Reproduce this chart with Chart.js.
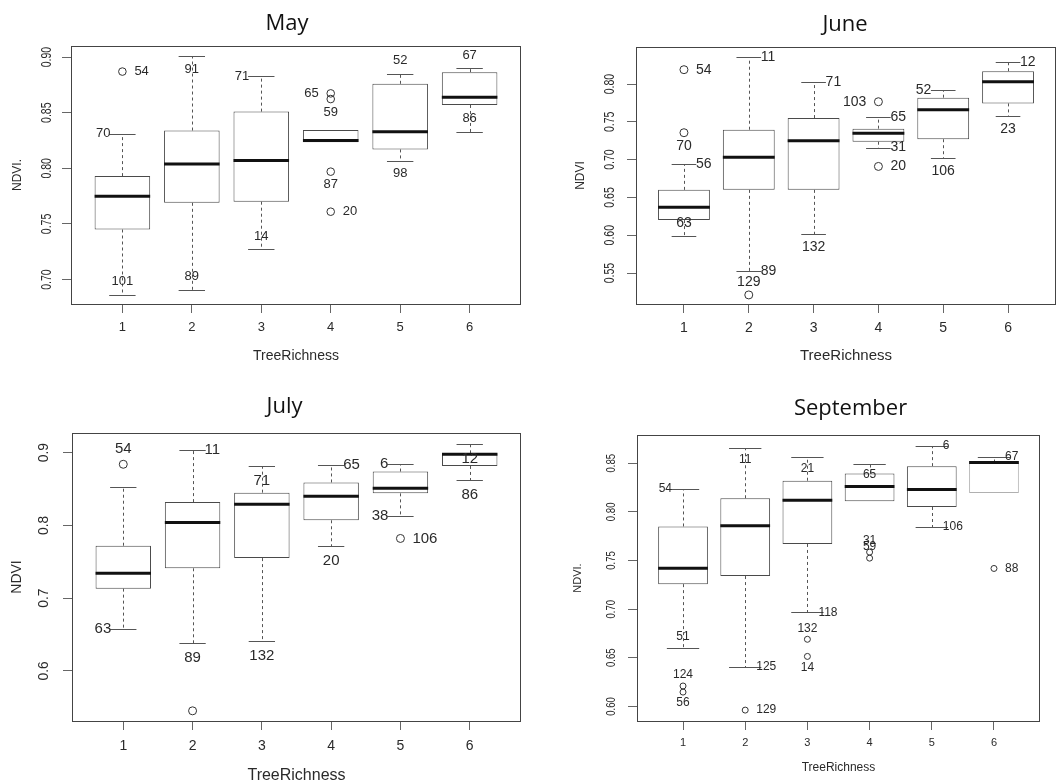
<!DOCTYPE html>
<html>
<head>
<meta charset="utf-8">
<title>NDVI by TreeRichness</title>
<script src="https://cdn.jsdelivr.net/npm/chart.js@4.4.0/dist/chart.umd.min.js"></script>
<style>
  html, body { margin: 0; padding: 0; background: #fff; }
  body { width: 1061px; height: 782px; position: relative; overflow: hidden; }
  .panel { position: absolute; }
  .panel canvas { display: block; }
</style>
</head>
<body>
<div class="panel" style="left:0;top:0"><canvas id="mayChart" width="530" height="380"></canvas></div>
<div class="panel" style="left:530px;top:0"><canvas id="juneChart" width="531" height="380"></canvas></div>
<div class="panel" style="left:0;top:380px"><canvas id="julyChart" width="530" height="402"></canvas></div>
<div class="panel" style="left:530px;top:380px"><canvas id="septChart" width="531" height="402"></canvas></div>

<script>
// ---- data ----
const treeRichness = [1, 2, 3, 4, 5, 6];

// May
const mayLow  = [0.6865, 0.691, 0.7275, 0.8235, 0.807, 0.833];
const mayQ1   = [0.745, 0.769, 0.770, 0.8235, 0.817, 0.857];
const mayMed  = [0.775, 0.804, 0.807, 0.825, 0.833, 0.864];
const mayQ3   = [0.793, 0.834, 0.851, 0.8345, 0.876, 0.8865];
const mayHigh = [0.831, 0.901, 0.883, 0.8345, 0.885, 0.890];
const mayOutX = [1, 4, 4, 4, 4];
const mayOutY = [0.887, 0.8674, 0.8623, 0.797, 0.761];
const mayIdText = ['54', '70', '101', '91', '89', '71', '14', '65', '59', '87', '20', '52', '98', '67', '86'];
const mayIdX    = [1, 1, 1, 2, 2, 3, 3, 4, 4, 4, 4, 5, 5, 6, 6];
const mayIdY    = [0.887, 0.831, 0.6865, 0.901, 0.691, 0.883, 0.7275, 0.8674, 0.8623, 0.797, 0.761, 0.885, 0.807, 0.890, 0.833];
const mayIdSide = ['r', 'l', 'a', 'b', 'a', 'l', 'a', 'l', 'b', 'b', 'r', 'a', 'b', 'a', 'a'];
const mayTicks  = [0.70, 0.75, 0.80, 0.85, 0.90];

// June
const juneLow  = [0.5985, 0.552, 0.602, 0.716, 0.702, 0.758];
const juneQ1   = [0.620, 0.660, 0.660, 0.7237, 0.727, 0.7744];
const juneMed  = [0.637, 0.703, 0.725, 0.735, 0.766, 0.803];
const juneQ3   = [0.660, 0.7396, 0.755, 0.741, 0.782, 0.817];
const juneHigh = [0.6946, 0.836, 0.8026, 0.756, 0.7916, 0.8295];
const juneOutX = [1, 1, 2, 4, 4];
const juneOutY = [0.819, 0.7356, 0.521, 0.7766, 0.691];
const juneIdText = ['54', '70', '56', '63', '11', '89', '129', '71', '132', '103', '65', '31', '20', '52', '106', '12', '23'];
const juneIdX    = [1, 1, 1, 1, 2, 2, 2, 3, 3, 4, 4, 4, 4, 5, 5, 6, 6];
const juneIdY    = [0.819, 0.7356, 0.6946, 0.5985, 0.836, 0.552, 0.521, 0.8026, 0.602, 0.7766, 0.756, 0.716, 0.691, 0.7916, 0.702, 0.8295, 0.758];
const juneIdSide = ['r', 'b', 'r', 'a', 'r', 'r', 'a', 'r', 'b', 'l', 'r', 'r', 'r', 'l', 'b', 'r', 'b'];
const juneTicks  = [0.55, 0.60, 0.65, 0.70, 0.75, 0.80];

// July
const julyLow  = [0.658, 0.638, 0.641, 0.7716, 0.813, 0.862];
const julyQ1   = [0.713, 0.741, 0.755, 0.807, 0.844, 0.8817];
const julyMed  = [0.734, 0.804, 0.829, 0.840, 0.851, 0.8977];
const julyQ3   = [0.772, 0.832, 0.845, 0.859, 0.874, 0.899];
const julyHigh = [0.853, 0.904, 0.882, 0.8835, 0.884, 0.912];
const julyOutX = [1, 2, 5];
const julyOutY = [0.884, 0.545, 0.782];
const julyIdText = ['54', '63', '11', '89', '71', '132', '65', '20', '6', '38', '106', '12', '86'];
const julyIdX    = [1, 1, 2, 2, 3, 3, 4, 4, 5, 5, 5, 6, 6];
const julyIdY    = [0.884, 0.658, 0.904, 0.638, 0.882, 0.641, 0.8835, 0.7716, 0.884, 0.813, 0.782, 0.912, 0.862];
const julyIdSide = ['a', 'l', 'r', 'b', 'b', 'b', 'r', 'b', 'l', 'l', 'r', 'b', 'b'];
const julyTicks  = [0.6, 0.7, 0.8, 0.9];

// September
const septLow  = [0.660, 0.641, 0.6966, 0.811, 0.7846, 0.8195];
const septQ1   = [0.7257, 0.734, 0.767, 0.811, 0.805, 0.8195];
const septMed  = [0.742, 0.7856, 0.812, 0.826, 0.823, 0.8507];
const septQ3   = [0.785, 0.814, 0.832, 0.8394, 0.847, 0.8507];
const septHigh = [0.8236, 0.8654, 0.856, 0.8497, 0.8675, 0.8568];
const septOutX = [1, 1, 2, 3, 3, 4, 4, 6];
const septOutY = [0.621, 0.6147, 0.5962, 0.669, 0.6514, 0.7586, 0.7524, 0.7418];
const septIdText = ['54', '51', '124', '56', '11', '125', '129', '21', '118', '132', '14', '65', '31', '59', '6', '106', '67', '88'];
const septIdX    = [1, 1, 1, 1, 2, 2, 2, 3, 3, 3, 3, 4, 4, 4, 5, 5, 6, 6];
const septIdY    = [0.8236, 0.660, 0.621, 0.6147, 0.8654, 0.641, 0.5962, 0.856, 0.6966, 0.669, 0.6514, 0.8497, 0.7586, 0.7524, 0.8675, 0.7846, 0.8568, 0.7418];
const septIdSide = ['l', 'a', 'a', 'b', 'b', 'r', 'r', 'b', 'r', 'a', 'b', 'b', 'a', 'a', 'r', 'r', 'r', 'r'];
const septTicks  = [0.60, 0.65, 0.70, 0.75, 0.80, 0.85];

// ---- panels (layout + style) ----
const SANS = '"Liberation Sans", Arial, sans-serif';
const boxColor = '#4a4a4a';
const whiskerColor = '#555';
const textColor = '#2a2a2a';

const panels = [
    {
        canvas: 'mayChart', title: 'May', yTitle: 'NDVI.',
        low: mayLow, q1: mayQ1, med: mayMed, q3: mayQ3, high: mayHigh,
        outX: mayOutX, outY: mayOutY,
        idText: mayIdText, idX: mayIdX, idY: mayIdY, idSide: mayIdSide,
        ticks: mayTicks, decimals: 2, yMin: 0.678, yMax: 0.910,
        top: 46, yw: 71, right: 9, xh: 76,
        titleDx: -9, titleBase: 30,
        xFont: 13, xPad: 7, xTitleFont: 14, xTitlePad: 15, xTitleLH: 1.2,
        yTitleFont: 12, yTitlePad: 10,
        yTickFont: 14, yTickSx: 0.75, yTickGap: 24,
        idFont: 13, idDx: 12, idDy: 13, r: 3.8, cap: 0.38,
        boxColors: boxColor
    },
    {
        canvas: 'juneChart', title: 'June', yTitle: 'NDVI',
        low: juneLow, q1: juneQ1, med: juneMed, q3: juneQ3, high: juneHigh,
        outX: juneOutX, outY: juneOutY,
        idText: juneIdText, idX: juneIdX, idY: juneIdY, idSide: juneIdSide,
        ticks: juneTicks, decimals: 2, yMin: 0.509, yMax: 0.849,
        top: 47, yw: 106, right: 1, xh: 76,
        titleDx: -1, titleBase: 31,
        xFont: 14, xPad: 6.5, xTitleFont: 15, xTitlePad: 15, xTitleLH: 1.2,
        yTitleFont: 12, yTitlePad: 43,
        yTickFont: 14, yTickSx: 0.75, yTickGap: 26,
        idFont: 14, idDx: 12, idDy: 13, r: 4, cap: 0.38,
        boxColors: boxColor
    },
    {
        canvas: 'julyChart', title: 'July', yTitle: 'NDVI',
        low: julyLow, q1: julyQ1, med: julyMed, q3: julyQ3, high: julyHigh,
        outX: julyOutX, outY: julyOutY,
        idText: julyIdText, idX: julyIdX, idY: julyIdY, idSide: julyIdSide,
        ticks: julyTicks, decimals: 1, yMin: 0.531, yMax: 0.927,
        top: 53, yw: 72, right: 9, xh: 61,
        titleDx: -12, titleBase: 33,
        xFont: 14, xPad: 7.5, xTitleFont: 16, xTitlePad: 0, xTitleLH: 0.8,
        yTitleFont: 14, yTitlePad: 8.5,
        yTickFont: 15, yTickSx: 0.92, yTickGap: 28,
        idFont: 15, idDx: 12, idDy: 15, r: 4, cap: 0.38,
        boxColors: boxColor
    },
    {
        canvas: 'septChart', title: 'September', yTitle: 'NDVI.',
        low: septLow, q1: septQ1, med: septMed, q3: septQ3, high: septHigh,
        outX: septOutX, outY: septOutY,
        idText: septIdText, idX: septIdX, idY: septIdY, idSide: septIdSide,
        ticks: septTicks, decimals: 2, yMin: 0.585, yMax: 0.879,
        top: 55, yw: 107, right: 21, xh: 61,
        titleDx: 12, titleBase: 35,
        xFont: 11, xPad: 6.4, xTitleFont: 12, xTitlePad: 7, xTitleLH: 1.2,
        yTitleFont: 11, yTitlePad: 41,
        yTickFont: 12, yTickSx: 0.8, yTickGap: 25,
        idFont: 12, idDx: 11, idDy: 11, r: 3, cap: 0.52,
        boxColors: [boxColor, boxColor, boxColor, boxColor, boxColor, '#b0b0b0']
    }
];

function strokeLine(ctx, x0, y0, x1, y1) {
    ctx.beginPath();
    ctx.moveTo(x0, y0);
    ctx.lineTo(x1, y1);
    ctx.stroke();
}

// whiskers, medians, point ids, frame, rotated y labels, panel title
function makeExtras(p) {
    return {
        id: 'extras_' + p.canvas,
        afterDatasetsDraw(chart) {
            const { ctx, scales: { x, y } } = chart;
            ctx.save();
            treeRichness.forEach((c, i) => {
                const cx = Math.round(x.getPixelForValue(c)) + 0.5;
                const capL = x.getPixelForValue(c - p.cap / 2);
                const capR = x.getPixelForValue(c + p.cap / 2);
                [[p.q3[i], p.high[i]], [p.q1[i], p.low[i]]].forEach(([from, to]) => {
                    if (from === to) return;
                    const y0 = y.getPixelForValue(from);
                    const y1 = Math.round(y.getPixelForValue(to)) + 0.5;
                    ctx.strokeStyle = whiskerColor;
                    ctx.lineWidth = 1;
                    ctx.setLineDash([3, 3]);
                    strokeLine(ctx, cx, y0, cx, y1);
                    ctx.setLineDash([]);
                    strokeLine(ctx, capL, y1, capR, y1);
                });
                // median
                const my = y.getPixelForValue(p.med[i]);
                ctx.strokeStyle = '#111';
                ctx.lineWidth = 3;
                strokeLine(ctx, x.getPixelForValue(c - 0.4), my, x.getPixelForValue(c + 0.4), my);
            });

            // point identifiers
            ctx.font = p.idFont + 'px ' + SANS;
            ctx.fillStyle = textColor;
            p.idText.forEach((t, i) => {
                const px = x.getPixelForValue(p.idX[i]);
                const py = y.getPixelForValue(p.idY[i]);
                const side = p.idSide[i];
                ctx.textBaseline = 'middle';
                if (side === 'l') {
                    ctx.textAlign = 'right';
                    ctx.fillText(t, px - p.idDx, py);
                } else if (side === 'r') {
                    ctx.textAlign = 'left';
                    ctx.fillText(t, px + p.idDx, py);
                } else {
                    ctx.textAlign = 'center';
                    ctx.fillText(t, px, side === 'a' ? py - p.idDy : py + p.idDy);
                }
            });
            ctx.restore();
        },
        afterDraw(chart) {
            const { ctx, chartArea: a, scales: { y } } = chart;
            ctx.save();
            // plot frame
            ctx.strokeStyle = '#444';
            ctx.lineWidth = 1;
            ctx.strokeRect(Math.round(a.left) + 0.5, Math.round(a.top) + 0.5,
                Math.round(a.right - a.left) - 1, Math.round(a.bottom - a.top));

            // rotated y tick labels
            ctx.fillStyle = textColor;
            ctx.font = p.yTickFont + 'px ' + SANS;
            ctx.textAlign = 'center';
            ctx.textBaseline = 'middle';
            y.ticks.forEach(t => {
                ctx.save();
                ctx.translate(a.left - p.yTickGap, y.getPixelForValue(t.value));
                ctx.rotate(-Math.PI / 2);
                ctx.scale(p.yTickSx, 1);
                ctx.fillText(t.value.toFixed(p.decimals), 0, 0);
                ctx.restore();
            });

            // panel title
            ctx.fillStyle = '#111';
            ctx.font = '22px "Open Sans", sans-serif';
            ctx.textAlign = 'center';
            ctx.textBaseline = 'alphabetic';
            ctx.fillText(p.title, (a.left + a.right) / 2 + p.titleDx, p.titleBase);
            ctx.restore();
        }
    };
}

function initPanel(p) {
    const el = document.getElementById(p.canvas);
    return new Chart(el, {
        type: 'bar',
        data: {
            datasets: [{
                type: 'bar',
                data: treeRichness.map((c, i) => ({ x: c, y: [p.q1[i], p.q3[i]] })),
                backgroundColor: '#fff',
                borderColor: p.boxColors,
                borderWidth: 1,
                borderSkipped: false,
                categoryPercentage: 1,
                barPercentage: 0.8
            }, {
                type: 'scatter',
                data: p.outX.map((c, i) => ({ x: c, y: p.outY[i] })),
                pointStyle: 'circle',
                pointRadius: p.r,
                pointBorderWidth: 1,
                pointBackgroundColor: 'rgba(0,0,0,0)',
                pointBorderColor: '#333'
            }]
        },
        options: {
            responsive: false,
            animation: false,
            events: [],
            layout: { padding: { top: p.top, right: p.right, left: 0, bottom: 0 } },
            plugins: {
                legend: { display: false },
                tooltip: { enabled: false }
            },
            scales: {
                x: {
                    type: 'linear',
                    min: 0.26,
                    max: 6.74,
                    offset: false,
                    afterBuildTicks: s => { s.ticks = treeRichness.map(v => ({ value: v })); },
                    afterFit: s => { s.height = p.xh; },
                    border: { display: false },
                    grid: { offset: false, drawOnChartArea: false, tickLength: 9, tickColor: '#666' },
                    ticks: {
                        color: textColor,
                        padding: p.xPad,
                        maxRotation: 0,
                        font: { family: SANS, size: p.xFont },
                        callback: v => String(v)
                    },
                    title: {
                        display: true,
                        text: 'TreeRichness',
                        color: textColor,
                        padding: { top: 0, bottom: p.xTitlePad },
                        font: { family: SANS, size: p.xTitleFont, lineHeight: p.xTitleLH }
                    }
                },
                y: {
                    type: 'linear',
                    min: p.yMin,
                    max: p.yMax,
                    afterBuildTicks: s => { s.ticks = p.ticks.map(v => ({ value: v })); },
                    afterFit: s => { s.width = p.yw; },
                    border: { display: false },
                    grid: { drawOnChartArea: false, tickLength: 9, tickColor: '#666' },
                    ticks: { display: false },
                    title: {
                        display: true,
                        text: p.yTitle,
                        color: textColor,
                        padding: { top: p.yTitlePad, bottom: 0 },
                        font: { family: SANS, size: p.yTitleFont }
                    }
                }
            }
        },
        plugins: [makeExtras(p)]
    });
}

panels.forEach(initPanel);
</script>
</body>
</html>
